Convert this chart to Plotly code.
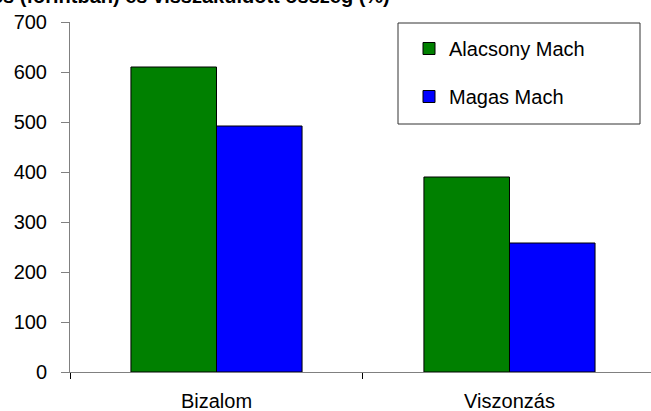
import plotly.graph_objects as go

categories = ["Bizalom", "Viszonzás"]
alacsony_mach = [610, 390]
magas_mach = [492, 258]
series_names = ["Alacsony Mach", "Magas Mach"]
y_ticks = [0, 100, 200, 300, 400, 500, 600, 700]
title_text = "Befektetés (forintban) és visszaküldött összeg (%)"

FONT = "Liberation Sans, Arial, sans-serif"

fig = go.Figure()
fig.add_trace(go.Bar(x=categories, y=alacsony_mach, name=series_names[0],
                     marker=dict(color="#008000", line=dict(color="#000000", width=1)),
                     legendgroup="a"))
fig.add_trace(go.Bar(x=categories, y=magas_mach, name=series_names[1],
                     marker=dict(color="#0000FF", line=dict(color="#000000", width=1)),
                     legendgroup="b"))

fig.update_layout(
    width=651, height=411,
    margin=dict(l=70, r=0, t=22, b=39),
    paper_bgcolor="white", plot_bgcolor="white",
    font=dict(family=FONT, size=20, color="#000000"),
    barmode="group", bargap=0.416, bargroupgap=0,
    showlegend=True,
    legend=dict(x=0.5835, y=0.98, xanchor="left", yanchor="top",
                bgcolor="rgba(0,0,0,0)", borderwidth=0,
                font=dict(family=FONT, size=20, color="#000000"),
                traceorder="grouped", tracegroupgap=19),
    xaxis=dict(range=[-0.5, 1.483], showline=True, linecolor="#808080", linewidth=1,
               ticks="outside", tickson="boundaries", ticklen=6, tickcolor="#000000",
               showgrid=False, zeroline=False, ticklabelstandoff=11),
    yaxis=dict(range=[0, 700], tickvals=y_ticks, showline=True, linecolor="#808080",
               linewidth=1, ticks="outside", ticklen=8, tickcolor="#808080",
               showgrid=False, zeroline=False, ticklabelstandoff=10),
    shapes=[dict(type="rect", xref="paper", yref="paper",
                 x0=(398 - 70) / 581, x1=(640 - 70) / 581,
                 y0=(372 - 124) / 350, y1=(372 - 23) / 350,
                 line=dict(color="#333333", width=1), fillcolor="rgba(0,0,0,0)")],
    annotations=[dict(text="<b>" + title_text + "</b>", xref="paper", yref="paper",
                      x=(392 - 70) / 581, y=(372 + 4) / 350, xanchor="right",
                      yanchor="middle", showarrow=False,
                      font=dict(family=FONT, size=20, color="#000000"))],
)

fig.write_html("out.html", config={"displayModeBar": False},
               post_script="document.body.style.margin='0';")
